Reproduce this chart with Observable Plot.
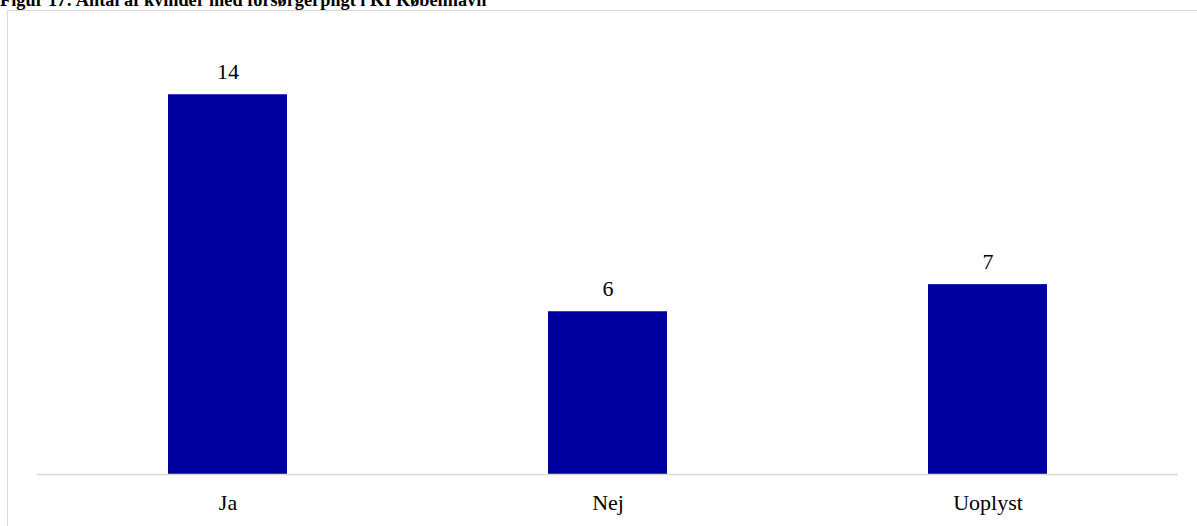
<!DOCTYPE html>
<html>
<head>
<meta charset="utf-8">
<script src="https://cdn.jsdelivr.net/npm/d3@7"></script>
<script src="https://cdn.jsdelivr.net/npm/@observablehq/plot@0.6"></script>
<style>
  html, body { margin: 0; padding: 0; background: #fff; overflow: hidden; }
  #wrap { position: relative; width: 1197px; height: 526px; overflow: hidden; }
  #title { position: absolute; left: 0; top: -9px; font: bold 18.3px "Liberation Serif", "Times New Roman", serif; color: #000; white-space: nowrap; line-height: 18px; }
  #frame { position: absolute; left: 7px; top: 10px; width: 1400px; height: 800px; border-left: 1px solid #d9d9d9; border-top: 1px solid #d9d9d9; }
  #chart { position: absolute; left: 0; top: 0; }
</style>
</head>
<body>
<div id="wrap">
  <div id="frame"></div>
  <div id="title">Figur 17: Antal af kvinder med forsørgerpligt i KI København</div>
  <div id="chart"></div>
</div>
<script>
const categories = ["Ja", "Nej", "Uoplyst"];
const values = [14, 6, 7];

const data = categories.map((c, i) => ({category: c, value: values[i]}));

const chart = Plot.plot({
  width: 1197,
  height: 526,
  marginLeft: 37,
  marginRight: 19,
  marginTop: 40,
  marginBottom: 52,
  style: {fontFamily: "'Liberation Serif', 'Times New Roman', serif", fontSize: "22px", color: "#000", background: "transparent"},
  x: {domain: categories, paddingInner: 0.687, paddingOuter: 0.3435, label: null},
  y: {domain: [0, 16], axis: null},
  marks: [
    Plot.barY(data, {x: "category", y: "value", fill: "#0000a0"}),
    Plot.ruleY([0], {stroke: "#d9d9d9", strokeWidth: 1.5}),
    Plot.text(data, {x: "category", y: "value", text: d => String(d.value), lineAnchor: "bottom", dy: -16, fill: "#000", fontSize: 22, fontFamily: "'Liberation Serif', serif"}),
    Plot.axisX({tickSize: 0, tickPadding: 20, label: null, fontSize: 22, fontFamily: "'Liberation Serif', serif", fill: "#000"})
  ]
});
document.getElementById("chart").appendChild(chart);
</script>
</body>
</html>
